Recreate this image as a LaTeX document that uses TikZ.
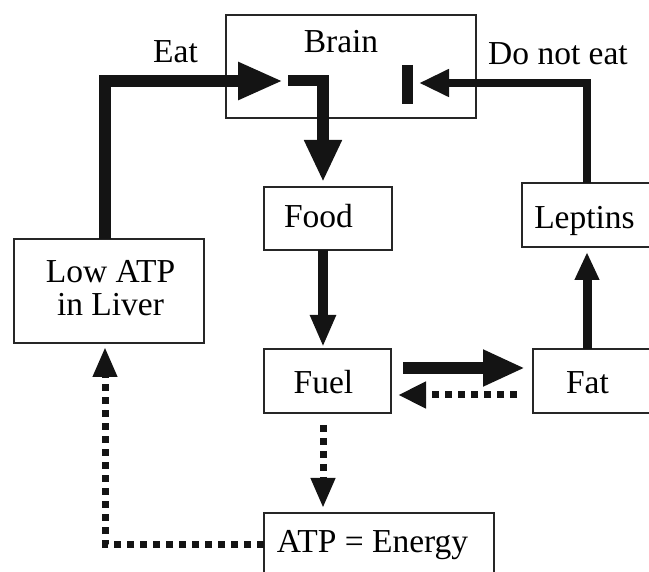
\documentclass[tikz,border=0pt]{standalone}
\usepackage{fontspec}
\setmainfont{Liberation Serif}
\usetikzlibrary{arrows.meta,calc}
\begin{document}
\begin{tikzpicture}[x=1pt,y=-1pt,
  box/.style={draw=black!85, line width=1.5pt, inner sep=0pt, outer sep=0pt},
  txt/.style={anchor=base, inner sep=0pt, font=\fontsize{33.5}{33}\selectfont},
  sol/.style={draw=black!92, line width=#1, line join=miter},
  dot/.style={draw=black!92, line width=7pt, dash pattern=on 7pt off 6pt}]
\useasboundingbox (0,0) rectangle (649,572);
\clip (0,0) rectangle (649,572);
% boxes
\node[box, minimum width=250pt, minimum height=103pt] (brain) at (351,66.5) {};
\node[box, line width=2.5pt, minimum width=128pt, minimum height=63pt] (food) at (328,218.5) {};
\node[box, minimum width=138pt, minimum height=64pt] (lept) at (591,215) {};
\node[box, minimum width=190pt, minimum height=104pt] (low) at (109,291) {};
\node[box, minimum width=127pt, minimum height=64pt] (fuel) at (327.5,381) {};
\node[box, minimum width=127pt, minimum height=64pt] (fat) at (596.5,381) {};
\node[box, minimum width=230pt, minimum height=87pt] (atp) at (379,556.5) {};
% texts
\node[txt] (tbrain) at (341,53) {Brain};
\node[txt] (teat) at (175.5,63) {Eat};
\node[txt] (tdne) at (558,65) {Do not eat};
\node[txt] (tfood) at (318.5,228) {Food};
\node[txt] (tlept) at (584.5,229) {Leptins};
\node[txt, anchor=center, align=center] (tlow) at (110.5,288) {Low ATP\\in Liver};
\node[txt] (tfuel) at (323.5,394) {Fuel};
\node[txt] (tfat) at (587.5,394) {Fat};
\node[txt] (tatp) at (372.5,552) {ATP = Energy};
% connectors
\draw[sol=12pt, -{Triangle[length=45pt,width=35pt]}] ($(low.north)+(-4,0)$) |- ($(brain.west)+(57,14.5)$);
\draw[sol=11.5pt, -{Triangle[length=42pt,width=35pt]}] ($(brain.west)+(62,14)$) -| ($(food.north)+(-5,-5)$);
\draw[sol=10pt, -{Triangle[length=32pt,width=24pt]}] ($(food.south)+(-5,0)$) -- ($(fuel.north)+(-4.5,-2)$);
\draw[sol=12pt, -{Triangle[length=42pt,width=34pt]}] ($(fuel.east)+(12,-13)$) -- ($(fat.west)+(-8,-13)$);
\draw[dot, -{Triangle[length=28pt,width=25pt]}] ($(fat.west)+(-16,14)$) -- ($(fuel.east)+(7,14)$);
\draw[sol=9pt, -{Triangle[length=28pt,width=23pt]}] ($(fat.north)+(-9.5,0)$) -- ($(lept.south)+(-4,5)$);
\draw[sol=7.5pt, -{Triangle[length=30pt,width=26pt]}] ($(lept.north)+(-4,0)$) |- ($(brain.east)+(-57,16.5)$);
\draw[sol=11pt] ($(brain.east)+(-68.5,-1.5)$) -- ($(brain.east)+(-68.5,37.5)$);
\draw[dot, -{Triangle[length=30pt,width=23pt]}] ($(fuel.south)+(-4.5,12)$) -- ($(atp.north)+(-56,-5)$);
\draw[dot, -{Triangle[length=30pt,width=23pt]}] ($(atp.west)+(0,-12.5)$) -| ($(low.south)+(-4,4)$);
\end{tikzpicture}
\end{document}
